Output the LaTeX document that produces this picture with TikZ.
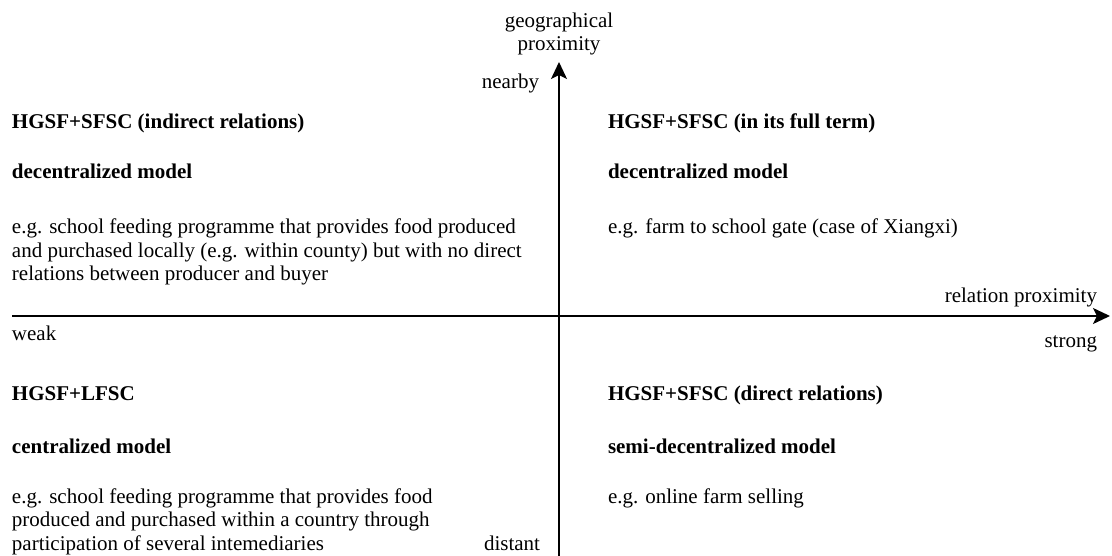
\documentclass[tikz,border=0pt]{standalone}
\usepackage{fontspec}
\setmainfont{Liberation Serif}
\usetikzlibrary{arrows.meta}
\begin{document}
\begin{tikzpicture}[x=1pt,y=-1pt,
  txt/.style={inner sep=0pt,outer sep=0pt,font=\fontsize{21}{23.5}\selectfont},
  head/.style={txt,font=\fontsize{21}{23.5}\selectfont\bfseries,anchor=base west},
  body/.style={txt,anchor=base west,align=left},
  axis/.style={line width=1.6pt,-{Stealth[length=17pt,width=16pt,inset=4pt]}}]
\useasboundingbox (0,0) rectangle (1112,556);

% axes
\coordinate (vbot) at (559,556);
\coordinate (vtop) at (559,62);
\coordinate (hleft) at (12,316);
\coordinate (hright) at (1110,316);
\draw[axis] (hleft) -- (hright);
\draw[axis] (vbot) -- (vtop);

% axis labels (multi-line nodes sit on the baseline of their last line)
\node[txt,anchor=base,align=center] (geo) at (559,51) {geographical\\proximity};
\node[txt,anchor=base east] (nearby) at (539,89) {nearby};
\node[txt,anchor=base east] (distant) at (540,550) {distant};
\node[txt,anchor=base west] (weak) at (12,341) {weak};
\node[txt,anchor=base east] (strong) at (1097,348) {strong};
\node[txt,anchor=base east] (relprox) at (1097,302) {relation proximity};

% upper left quadrant
\node[head] (tlh) at (12,129) {HGSF+SFSC (indirect relations)};
\node[head] (tlm) at (12,179) {decentralized model};
\node[body] (tlb) at (12,280.5) {e.g. school feeding programme that provides food produced\\and purchased locally (e.g. within county) but with no direct\\relations between producer and buyer};

% upper right quadrant
\node[head] (trh) at (608,129) {HGSF+SFSC (in its full term)};
\node[head] (trm) at (608,179) {decentralized model};
\node[body] (trb) at (608,233.5) {e.g. farm to school gate (case of Xiangxi)};

% lower left quadrant
\node[head] (blh) at (12,400) {HGSF+LFSC};
\node[head] (blm) at (12,453) {centralized model};
\node[body] (blb) at (12,550) {e.g. school feeding programme that provides food\\produced and purchased within a country through\\participation of several intemediaries};

% lower right quadrant
\node[head] (brh) at (608,400) {HGSF+SFSC (direct relations)};
\node[head] (brm) at (608,453) {semi-decentralized model};
\node[body] (brb) at (608,503) {e.g. online farm selling};
\end{tikzpicture}
\end{document}
